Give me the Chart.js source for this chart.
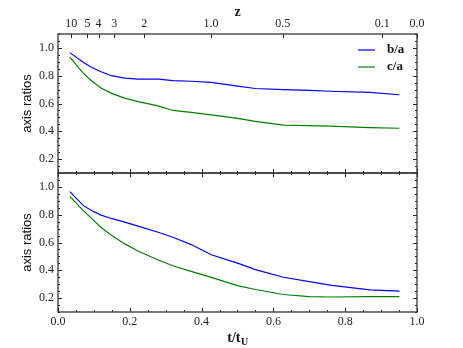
<!DOCTYPE html>
<html>
<head>
<meta charset="utf-8">
<script src="https://cdn.jsdelivr.net/npm/chart.js@4/dist/chart.umd.min.js"></script>
<style>
  html, body { margin: 0; padding: 0; background: #fff; }
  #wrap { position: relative; width: 463px; height: 348px; }
  .panel { position: absolute; left: 0; width: 463px; }
</style>
</head>
<body>
<div id="wrap">
  <div class="panel" style="top:0;height:174px"><canvas id="topChart"></canvas></div>
  <div class="panel" style="top:172px;height:176px"><canvas id="bottomChart"></canvas></div>
</div>
<script>
// t/t_U des snapshots
const tValues = [0.033, 0.07, 0.093, 0.12, 0.149, 0.186, 0.223, 0.279, 0.32, 0.371, 0.427, 0.50, 0.55, 0.628, 0.70, 0.758, 0.869, 0.951];

// panneau du haut
const topBA = [0.966, 0.897, 0.861, 0.828, 0.800, 0.783, 0.776, 0.776, 0.765, 0.760, 0.752, 0.725, 0.708, 0.700, 0.694, 0.688, 0.680, 0.663];
const topCA = [0.933, 0.818, 0.764, 0.712, 0.673, 0.639, 0.614, 0.583, 0.550, 0.536, 0.518, 0.493, 0.472, 0.444, 0.441, 0.437, 0.427, 0.422];

// panneau du bas
const botBA = [0.966, 0.867, 0.830, 0.797, 0.773, 0.747, 0.718, 0.674, 0.638, 0.585, 0.512, 0.452, 0.405, 0.350, 0.318, 0.293, 0.259, 0.250];
const botCA = [0.932, 0.831, 0.775, 0.708, 0.652, 0.590, 0.539, 0.474, 0.433, 0.392, 0.349, 0.290, 0.262, 0.226, 0.210, 0.208, 0.210, 0.210];

const yTicks = [0.2, 0.4, 0.6, 0.8, 1.0];
const xTicks = [0.0, 0.2, 0.4, 0.6, 0.8, 1.0];
const zTickLabels = ['10', '5', '4', '3', '2', '1.0', '0.5', '0.1', '0.0'];
const zTickPos = [0.037, 0.082, 0.113, 0.157, 0.240, 0.426, 0.626, 0.903, 1.0];

const serif = 'Liberation Serif';
const toPoints = (ys) => tValues.map((t, i) => ({ x: t, y: ys[i] }));
const fixTicks = (vals) => (scale) => { scale.ticks = vals.map((v) => ({ value: v })); };

// cadre + graduations vers l'intérieur, comme matplotlib classique
const frameTicks = {
  id: 'frameTicks',
  afterDraw(chart, args, opts) {
    const { ctx, chartArea: a, scales } = chart;
    const x = scales.x, y = scales.y;
    ctx.save();
    ctx.strokeStyle = '#222';
    ctx.lineWidth = 1;
    ctx.beginPath();
    for (let v = 0.1; v <= 1.1001; v += 0.05) {
      const py = Math.round(y.getPixelForValue(v)) + 0.5;
      const major = Math.abs(v * 5 - Math.round(v * 5)) < 1e-6;
      const len = major ? 4 : 2;
      ctx.moveTo(a.left, py); ctx.lineTo(a.left + len, py);
      ctx.moveTo(a.right, py); ctx.lineTo(a.right - len, py);
    }
    for (let v = 0; v <= 1.0001; v += 0.05) {
      const px = Math.round(x.getPixelForValue(v)) + 0.5;
      const major = Math.abs(v * 5 - Math.round(v * 5)) < 1e-6;
      const len = major ? 4 : 2;
      ctx.moveTo(px, a.bottom); ctx.lineTo(px, a.bottom - len);
      if (!opts.zTop) { ctx.moveTo(px, a.top); ctx.lineTo(px, a.top + len); }
    }
    if (opts.zTop) {
      zTickPos.forEach((v) => {
        const px = Math.round(scales.z.getPixelForValue(v)) + 0.5;
        ctx.moveTo(px, a.top); ctx.lineTo(px, a.top + 4);
      });
    }
    ctx.stroke();
    ctx.lineWidth = 1.3;
    ctx.strokeStyle = '#333';
    ctx.strokeRect(a.left, a.top, a.right - a.left, a.bottom - a.top);
    ctx.restore();
  }
};

// légende dans le coin haut droit
const cornerLegend = {
  id: 'cornerLegend',
  afterDraw(chart, args, opts) {
    if (!opts.show) return;
    const { ctx, chartArea: a } = chart;
    ctx.save();
    ctx.font = `bold 13px "${serif}"`;
    ctx.textBaseline = 'middle';
    ctx.fillStyle = '#111';
    chart.data.datasets.forEach((ds, i) => {
      const yy = a.top + 16 + i * 17;
      ctx.strokeStyle = ds.borderColor;
      ctx.lineWidth = 1.2;
      ctx.beginPath();
      ctx.moveTo(a.right - 59, yy); ctx.lineTo(a.right - 42, yy);
      ctx.stroke();
      ctx.fillText(ds.label, a.right - 30, yy);
    });
    ctx.restore();
  }
};

// titre t/t_U avec indice
const bottomTitle = {
  id: 'bottomTitle',
  afterDraw(chart, args, opts) {
    if (!opts.show) return;
    const { ctx, chartArea: a } = chart;
    ctx.save();
    ctx.fillStyle = '#111';
    ctx.textBaseline = 'alphabetic';
    const main = 't/t', sub = 'U';
    ctx.font = `bold 14px "${serif}"`;
    const w1 = ctx.measureText(main).width;
    ctx.font = `bold 10px "${serif}"`;
    const w2 = ctx.measureText(sub).width;
    const cx = (a.left + a.right) / 2;
    const x0 = cx - (w1 + w2) / 2;
    const base = a.bottom + 30;
    ctx.font = `bold 14px "${serif}"`;
    ctx.fillText(main, x0, base);
    ctx.font = `bold 10px "${serif}"`;
    ctx.fillText(sub, x0 + w1 + 0.5, base + 3);
    ctx.restore();
  }
};

const yScale = {
  type: 'linear',
  min: 0.1,
  max: 1.1,
  afterBuildTicks: fixTicks(yTicks),
  afterFit(scale) {
    scale.width = 58;
    scale.paddingTop = 0;
    scale.paddingBottom = 0;
  },
  grid: { display: false, drawTicks: false },
  border: { display: false },
  ticks: {
    padding: 4,
    color: '#222',
    font: { family: serif, size: 12 },
    callback: (v) => v.toFixed(1)
  },
  title: {
    display: true,
    text: 'axis ratios',
    color: '#111',
    font: { family: 'Liberation Sans', size: 13 },
    padding: { top: 20, bottom: 0 }
  }
};

function datasets(ba, ca) {
  return [
    { label: 'b/a', data: toPoints(ba), borderColor: '#0000ff', borderWidth: 1.2, pointRadius: 0, fill: false, tension: 0 },
    { label: 'c/a', data: toPoints(ca), borderColor: '#008000', borderWidth: 1.2, pointRadius: 0, fill: false, tension: 0 }
  ];
}

new Chart(document.getElementById('topChart'), {
  type: 'line',
  data: { datasets: datasets(topBA, topCA) },
  plugins: [frameTicks, cornerLegend, bottomTitle],
  options: {
    responsive: true,
    maintainAspectRatio: false,
    animation: false,
    layout: { padding: { left: 0, right: 46, top: 0, bottom: 1 } },
    plugins: {
      legend: { display: false },
      tooltip: { enabled: false },
      frameTicks: { zTop: true },
      cornerLegend: { show: true },
      bottomTitle: { show: false }
    },
    scales: {
      x: { type: 'linear', min: 0, max: 1, display: false },
      z: {
        type: 'linear',
        position: 'top',
        min: 0,
        max: 1,
        afterBuildTicks: fixTicks(zTickPos),
        afterFit(scale) {
          scale.height = 34;
          scale.paddingLeft = 0;
          scale.paddingRight = 0;
        },
        grid: { display: false, drawTicks: false },
        border: { display: false },
        ticks: {
          autoSkip: false,
          maxRotation: 0,
          padding: 3,
          color: '#222',
          font: { family: serif, size: 12 },
          callback: (v, i) => zTickLabels[i]
        },
        title: {
          display: true,
          text: 'z',
          color: '#111',
          font: { family: serif, size: 14, weight: 'bold' },
          padding: { top: 4, bottom: 0 }
        }
      },
      y: yScale
    }
  }
});

new Chart(document.getElementById('bottomChart'), {
  type: 'line',
  data: { datasets: datasets(botBA, botCA) },
  plugins: [frameTicks, cornerLegend, bottomTitle],
  options: {
    responsive: true,
    maintainAspectRatio: false,
    animation: false,
    layout: { padding: { left: 0, right: 46, top: 1, bottom: 0 } },
    plugins: {
      legend: { display: false },
      tooltip: { enabled: false },
      frameTicks: { zTop: false },
      cornerLegend: { show: false },
      bottomTitle: { show: true }
    },
    scales: {
      x: {
        type: 'linear',
        min: 0,
        max: 1,
        afterBuildTicks: fixTicks(xTicks),
        afterFit(scale) {
          scale.height = 36;
          scale.paddingLeft = 0;
          scale.paddingRight = 0;
        },
        grid: { display: false, drawTicks: false },
        border: { display: false },
        ticks: {
          autoSkip: false,
          maxRotation: 0,
          padding: 3,
          color: '#222',
          font: { family: serif, size: 12 },
          callback: (v) => v.toFixed(1)
        }
      },
      y: yScale
    }
  }
});
</script>
</body>
</html>
